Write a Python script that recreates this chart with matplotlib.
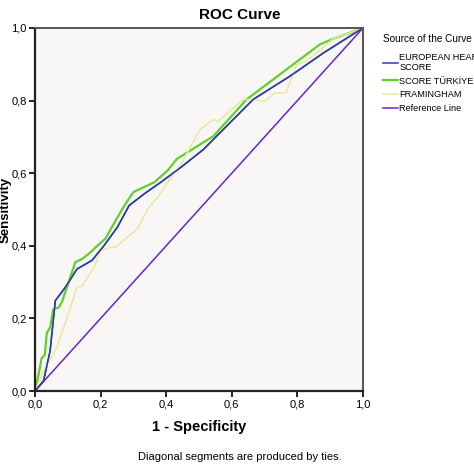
import matplotlib
matplotlib.use("Agg")
import matplotlib.pyplot as plt
import numpy as np

plt.rcParams['font.family'] = ['Liberation Sans', 'DejaVu Sans']

# ROC points (1 - specificity, sensitivity)
euro_fpr = [0, .026, .046, .062, .092, .128, .174, .21, .251, .287, .333, .385, .446, .513,
            .665, .777, .879, 1]
euro_tpr = [0, .028, .11, .249, .285, .336, .36, .40, .451, .511, .543, .576, .617, .665,
            .803, .867, .931, 1]

tr_fpr = [0, .013, .02, .03, .036, .046, .056, .072, .082, .097, .123, .144, .164, .19, .215,
          .246, .272, .30, .333, .364, .405, .432, .544, .645, .767, .869, .909, 1]
tr_tpr = [0, .055, .09, .10, .16, .175, .225, .23, .245, .285, .355, .364, .378, .40, .42,
          .47, .51, .548, .562, .575, .608, .639, .702, .803, .886, .955, .97, 1]

fr_fpr = [0, .026, .067, .097, .128, .144, .18, .2, .231, .246, .287, .313, .344, .374, .405,
          .446, .503, .543, .558, .634, .67, .70, .732, .765, .798, .828, .909, 1]
fr_tpr = [0, .055, .12, .20, .285, .29, .34, .387, .396, .396, .428, .447, .502, .534, .576,
          .626, .72, .748, .742, .803, .803, .798, .821, .821, .899, .908, .97, 1]

ref = [0, 1]

labels = ["EUROPEAN HEARTH\nSCORE", "SCORE TÜRKİYE", "FRAMINGHAM", "Reference Line"]
colors = ["#2b3ea6", "#5fcf2c", "#e6ea9a", "#6a22d0"]
ticks = [0, 0.2, 0.4, 0.6, 0.8, 1.0]
tick_labels = ["0,0", "0,2", "0,4", "0,6", "0,8", "1,0"]

fig = plt.figure(figsize=(4.74, 4.74), dpi=100)
ax = fig.add_axes([0.0738, 0.175, 0.692, 0.766])
ax.set_facecolor("#f9f7f5")

l1, = ax.plot(euro_fpr, euro_tpr, color=colors[0], lw=1.1)
l2, = ax.plot(tr_fpr, tr_tpr, color=colors[1], lw=1.6)
l3, = ax.plot(fr_fpr, fr_tpr, color=colors[2], lw=1.1)
l4, = ax.plot(ref, ref, color=colors[3], lw=1.1)
# redraw blue on top of the green where they overlap
ax.plot(euro_fpr, euro_tpr, color=colors[0], lw=1.1)

ax.set_xlim(0, 1)
ax.set_ylim(0, 1)
ax.set_xticks(ticks)
ax.set_xticklabels(tick_labels, fontsize=8)
ax.set_yticks(ticks)
ax.set_yticklabels(tick_labels, fontsize=8)
ax.tick_params(direction='out', length=4, width=1.2, pad=2)
for s in ["left", "bottom"]:
    ax.spines[s].set_linewidth(1.6)
    ax.spines[s].set_color("#222222")
for s in ["top", "right"]:
    ax.spines[s].set_linewidth(1.4)
    ax.spines[s].set_color("#555555")

ax.set_xlabel("1 - Specificity", fontsize=10.5, fontweight='bold', labelpad=8)
ax.set_ylabel("Sensitivity", fontsize=9.5, fontweight='bold')
ax.yaxis.set_label_coords(-0.072, 0.5)
fig.text(0.505, 0.968, "ROC Curve", ha='center', va='center', fontsize=11, fontweight='bold')
fig.text(0.505, 0.035, "Diagonal segments are produced by ties.", ha='center', va='center',
         fontsize=8)

leg = fig.legend([l1, l2, l3, l4], labels, loc='upper left', bbox_to_anchor=(0.79, 0.945),
                 bbox_transform=fig.transFigure, frameon=False, fontsize=6.6,
                 title="Source of the Curve", title_fontsize=7.2, handlelength=1.7,
                 handletextpad=0.1, labelspacing=0.5, alignment='left')
leg._legend_box.sep = 6

fig.savefig("out.png", dpi=100)
